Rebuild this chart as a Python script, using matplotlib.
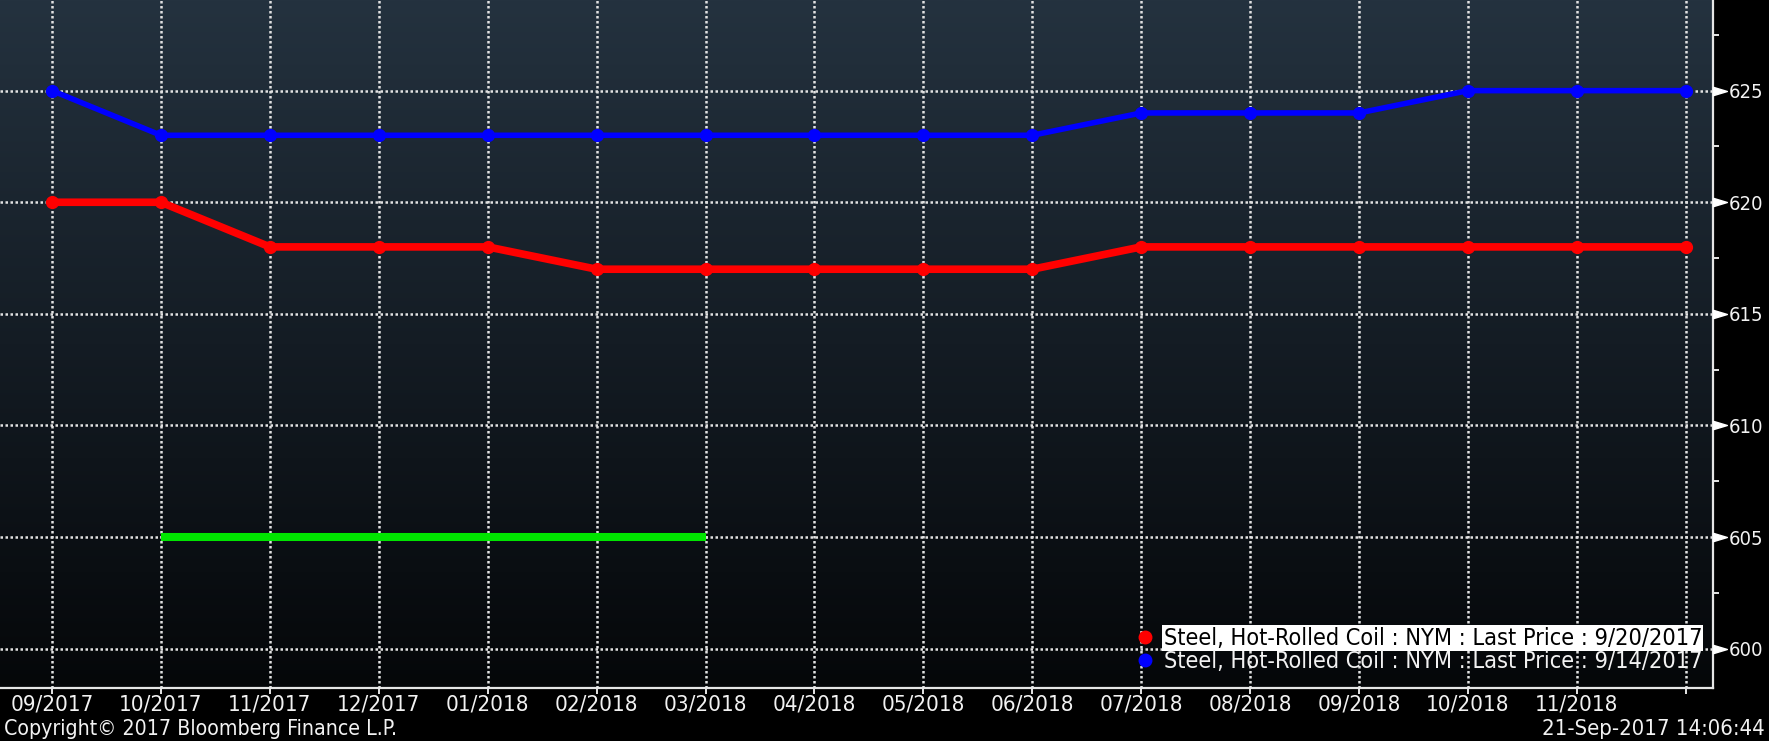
# hrc_futures_curve.py
# Steel hot-rolled coil (NYM) forward curve, two snapshot dates, Bloomberg style

import numpy as np
import matplotlib
matplotlib.use("Agg")
import matplotlib.pyplot as plt
from matplotlib.lines import Line2D
from matplotlib.path import Path
from matplotlib.colors import LinearSegmentedColormap
from matplotlib.ticker import MultipleLocator

# ------------------------------
# 1. Data
# ------------------------------
months = ["09/2017", "10/2017", "11/2017", "12/2017", "01/2018", "02/2018",
          "03/2018", "04/2018", "05/2018", "06/2018", "07/2018", "08/2018",
          "09/2018", "10/2018", "11/2018", "12/2018"]
tick_labels = months[:-1] + [""]

price_0920 = [620, 620, 618, 618, 618, 617, 617, 617, 617, 617,
              618, 618, 618, 618, 618, 618]
price_0914 = [625, 623, 623, 623, 623, 623, 623, 623, 623, 623,
              624, 624, 624, 625, 625, 625]

green_months = ["10/2017", "03/2018"]
green_level = [605, 605]

y_ticks = [600, 605, 610, 615, 620, 625]

label_0920 = "Steel, Hot-Rolled Coil : NYM : Last Price : 9/20/2017"
label_0914 = "Steel, Hot-Rolled Coil : NYM : Last Price : 9/14/2017"

# ------------------------------
# 2. Figure setup
# ------------------------------
plt.rcParams["font.family"] = "DejaVu Sans"
plt.rcParams["font.stretch"] = "condensed"
txt_color = "#f2f2f2"

fig = plt.figure(figsize=(17.69, 7.41), dpi=100, facecolor="black")
ax = fig.add_axes([0, 1 - 688 / 741, 1713 / 1769, 688 / 741])

# background gradient (dark slate at top -> black at bottom)
bg = LinearSegmentedColormap.from_list("bg", ["#24323f", "#141c24", "#050709"])
ax.imshow(np.linspace(0, 1, 256).reshape(-1, 1), cmap=bg, aspect="auto",
          extent=[0, 1, 0, 1], transform=ax.transAxes, zorder=0)

x = np.arange(len(months))

# ------------------------------
# 3. Series
# ------------------------------
ax.plot(x, price_0914, color="#0000ff", lw=4, marker="o", ms=8.5,
        solid_capstyle="round", zorder=3)
ax.plot(x, price_0920, color="#ff0000", lw=5.5, marker="o", ms=8.5,
        solid_capstyle="round", zorder=4)
gx = [months.index(m) for m in green_months]
ax.plot(gx, green_level, color="#00e600", lw=5.8, solid_capstyle="butt", zorder=3)

# ------------------------------
# 4. Axes, grid, ticks
# ------------------------------
ax.set_xlim(-0.478, 15.25)
ax.set_ylim(598.24, 629.06)

ax.set_xticks(x)
ax.set_xticklabels(tick_labels)
ax.set_yticks(y_ticks)
ax.yaxis.set_minor_locator(MultipleLocator(2.5))
ax.yaxis.tick_right()

ax.grid(True, which="major", color="#e2e2e2", linestyle=(0, (1.0, 1.0)),
        linewidth=1.8, zorder=1)
ax.set_axisbelow(True)

for s in ["left", "top"]:
    ax.spines[s].set_visible(False)
for s in ["right", "bottom"]:
    ax.spines[s].set_color("#e6e6e6")
    ax.spines[s].set_linewidth(1.6)

ax.tick_params(axis="x", colors="#e6e6e6", length=4, width=1.4, pad=0.5,
               labelsize=16, labelcolor=txt_color)
ax.tick_params(axis="y", which="major", length=0, pad=11.5,
               labelsize=14.5, labelcolor=txt_color)
ax.tick_params(axis="y", which="minor", colors="#e6e6e6", length=4, width=1.4)

# little white flags at the major y ticks
flag = Path([(0, -0.3), (0, 0.3), (1, 0), (0, -0.3)],
            [Path.MOVETO, Path.LINETO, Path.LINETO, Path.CLOSEPOLY])
ax.plot(np.ones(len(y_ticks)), y_ticks, transform=ax.get_yaxis_transform(),
        marker=flag, ms=20, ls="none", color="white", clip_on=False, zorder=5)

# ------------------------------
# 5. Legend
# ------------------------------
handles = [Line2D([], [], marker="o", ls="none", color="#ff0000", ms=9),
           Line2D([], [], marker="o", ls="none", color="#0000ff", ms=9)]
leg = ax.legend(handles, [label_0920, label_0914], loc="lower right",
                bbox_to_anchor=(0.9936, 0.022), frameon=False, fontsize=16.8,
                handlelength=1.0, handletextpad=0.3, labelspacing=0.0,
                borderaxespad=0, borderpad=0)
leg.set_zorder(6)
texts = leg.get_texts()
texts[0].set_color("black")
texts[0].set_bbox(dict(facecolor="white", edgecolor="none", pad=1.0))
texts[1].set_color(txt_color)

# ------------------------------
# 6. Footer
# ------------------------------
fig.text(4 / 1769, 1 - 729 / 741, "Copyright\u00a9 2017 Bloomberg Finance L.P.",
         ha="left", va="center", color=txt_color, fontsize=15.3)
fig.text(1765 / 1769, 1 - 729 / 741, "21-Sep-2017 14:06:44",
         ha="right", va="center", color=txt_color, fontsize=15.8)

fig.savefig("out.png", dpi=100, facecolor="black")
